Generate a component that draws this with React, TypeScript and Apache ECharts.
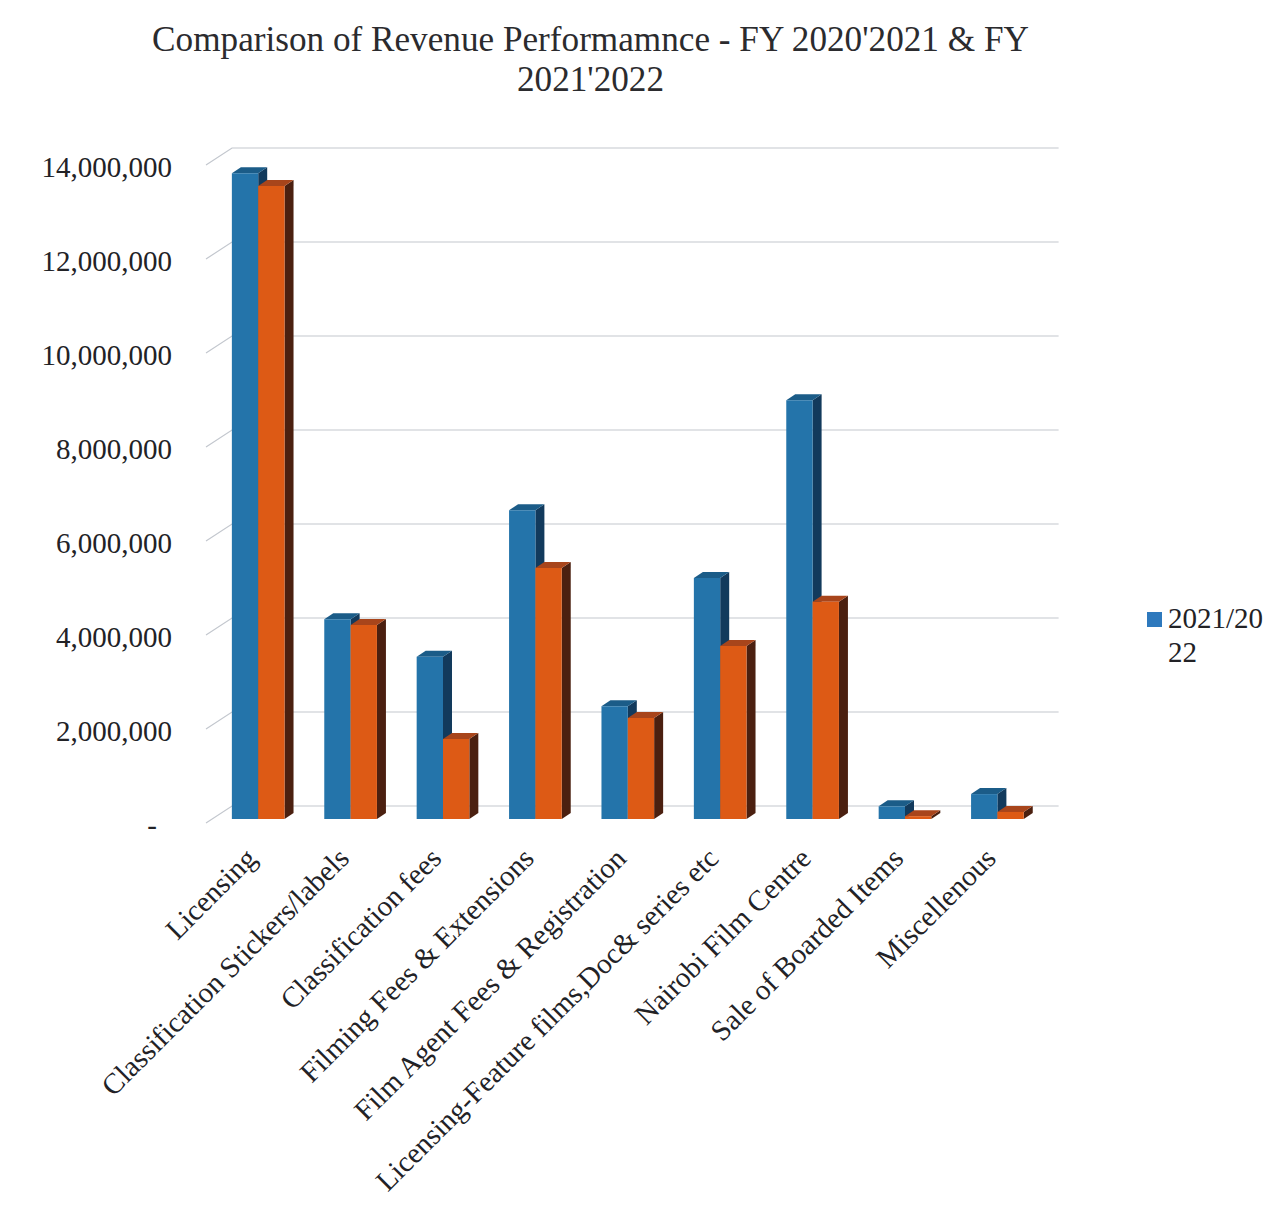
import React, { useEffect, useRef } from "react";
import * as echarts from "echarts";

const chartTitle = "Comparison of Revenue Performamnce - FY 2020'2021 & FY\n2021'2022";
const categories = [
  "Licensing",
  "Classification Stickers/labels",
  "Classification fees",
  "Filming Fees & Extensions",
  "Film Agent Fees & Registration",
  "Licensing-Feature films,Doc& series etc",
  "Nairobi Film Centre",
  "Sale of Boarded Items",
  "Miscellenous",
];
const legendName = "2021/20\n22";
const otherSeriesName = "2020/2021";
const values2122 = [13740000, 4250000, 3450000, 6570000, 2400000, 5130000, 8910000, 270000, 530000];
const values2021 = [13470000, 4130000, 1700000, 5340000, 2150000, 3680000, 4620000, 60000, 150000];
const wallTicks = [0, 2000000, 4000000, 6000000, 8000000, 10000000, 12000000, 14000000];

const serif = '"Liberation Serif", "Times New Roman", serif';
const blue = { front: "#2474aa", side: "#123a5c", top: "#1b5c88" };
const orange = { front: "#dd5a15", side: "#4b2010", top: "#a8451b" };

// Extruded bar: front face plus a side and top face pushed back by a fixed depth.
function barRenderer(colors: { front: string; side: string; top: string }, slot: number) {
  return (_params: any, api: any) => {
    const [cx, yTop] = api.coord([api.value(0), api.value(1)]);
    const [, yBase] = api.coord([api.value(0), 0]);
    const w = api.size([1, 0])[0] * 0.285;
    const x0 = cx + slot * w;
    const x1 = x0 + w;
    const dx = 9;
    const dy = -6;
    return {
      type: "group",
      children: [
        {
          type: "polygon",
          shape: { points: [[x1, yTop], [x1 + dx, yTop + dy], [x1 + dx, yBase + dy], [x1, yBase]] },
          style: { fill: colors.side },
        },
        {
          type: "polygon",
          shape: { points: [[x0, yTop], [x0 + dx, yTop + dy], [x1 + dx, yTop + dy], [x1, yTop]] },
          style: { fill: colors.top },
        },
        {
          type: "rect",
          shape: { x: x0, y: yTop, width: w, height: yBase - yTop },
          style: { fill: colors.front },
        },
      ],
    };
  };
}

// Back-wall gridline with its slanted return towards the axis.
function wallRenderer(params: any, api: any) {
  const sys = params.coordSys;
  const [, y] = api.coord([0, api.value(1)]);
  return {
    type: "polyline",
    shape: {
      points: [
        [sys.x - 6, y + 4],
        [sys.x + 20, y - 13],
        [sys.x + sys.width + 15, y - 13],
      ],
    },
    style: { fill: "none", stroke: "#c3c7ce", lineWidth: 1.2 },
  };
}

export default function App() {
  const ref = useRef<HTMLDivElement>(null);

  useEffect(() => {
    const chart = echarts.init(ref.current!, undefined, { renderer: "svg" });
    chart.setOption({
      animation: false,
      backgroundColor: "#ffffff",
      title: {
        text: chartTitle,
        left: 585.5,
        top: 14,
        textAlign: "center",
        textStyle: {
          fontFamily: serif,
          fontSize: 35.2,
          fontWeight: "normal",
          color: "#2b2b2e",
          lineHeight: 40,
        },
      },
      legend: {
        left: 1142,
        top: 596,
        orient: "vertical",
        data: [{ name: legendName }],
        selectedMode: false,
        itemWidth: 15,
        itemHeight: 68,
        itemGap: 0,
        icon: "path://M0 0L15 0M0 68L15 68M0 11H15V26H0Z",
        textStyle: {
          fontFamily: serif,
          fontSize: 29,
          color: "#222226",
          lineHeight: 34,
          padding: [0, 0, 0, 1],
        },
      },
      grid: { left: 212, right: 242.4, top: 161, bottom: 398 },
      xAxis: {
        type: "category",
        data: categories,
        axisLine: { show: false },
        axisTick: { show: false },
        axisLabel: {
          interval: 0,
          rotate: 45,
          margin: 27,
          padding: [0, 10, 0, 0],
          fontFamily: serif,
          fontSize: 29,
          color: "#222226",
        },
      },
      yAxis: {
        type: "value",
        min: 0,
        max: 14000000,
        interval: 2000000,
        axisLine: { show: false },
        axisTick: { show: false },
        splitLine: { show: false },
        axisLabel: {
          margin: 40,
          fontFamily: serif,
          fontSize: 29,
          color: "#222226",
          padding: [12, 0, 0, 0],
          formatter: (v: number) => (v === 0 ? "{dash|-}" : v.toLocaleString("en-US")),
          rich: {
            dash: { fontFamily: serif, fontSize: 29, color: "#222226", padding: [0, 15, 0, 0] },
          },
        },
      },
      series: [
        {
          type: "custom",
          name: "wall",
          silent: true,
          renderItem: wallRenderer,
          data: wallTicks.map((v) => [0, v]),
          encode: { x: 0, y: 1 },
          z: 1,
        },
        {
          type: "custom",
          name: legendName,
          renderItem: barRenderer(blue, -1),
          data: values2122.map((v, i) => [i, v]),
          encode: { x: 0, y: 1 },
          itemStyle: { color: "#2e79bd" },
          z: 2,
        },
        {
          type: "custom",
          name: otherSeriesName,
          renderItem: barRenderer(orange, 0),
          data: values2021.map((v, i) => [i, v]),
          encode: { x: 0, y: 1 },
          itemStyle: { color: orange.front },
          z: 3,
        },
      ],
    });
    return () => chart.dispose();
  }, []);

  return (
    <div
      ref={ref}
      style={{ position: "absolute", left: 0, top: 0, width: 1286, height: 1217 }}
    />
  );
}
